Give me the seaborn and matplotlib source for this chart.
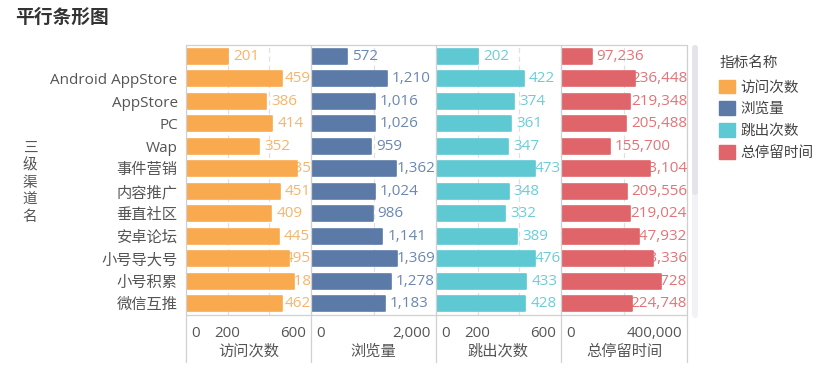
import numpy as np
import pandas as pd
import matplotlib
matplotlib.use("Agg")
import matplotlib.pyplot as plt
import seaborn as sns
from matplotlib.lines import Line2D
from matplotlib.patches import Patch, FancyBboxPatch
from matplotlib.transforms import ScaledTranslation

# data
channels = ["", "Android AppStore", "AppStore", "PC", "Wap", "事件营销", "内容推广",
            "垂直社区", "安卓论坛", "小号导大号", "小号积累", "微信互推"]
visits = [201, 459, 386, 414, 352, 535, 451, 409, 445, 495, 518, 462]
page_views = [572, 1210, 1016, 1026, 959, 1362, 1024, 986, 1141, 1369, 1278, 1183]
bounces = [202, 422, 374, 361, 347, 473, 348, 332, 389, 476, 433, 428]
stay_time = [97236, 236448, 219348, 205488, 155700, 283104, 209556, 219024,
             247932, 293336, 316728, 224748]

metrics = ["访问次数", "浏览量", "跳出次数", "总停留时间"]
bar_colors = ["#F9AA4E", "#5B7AA8", "#5EC8D3", "#E0656A"]
text_colors = ["#F6B56C", "#6B87B1", "#6CCDD7", "#E27479"]
ticks = [[0, 200, 400, 600], [0, 1000, 2000], [0, 200, 400, 600], [0, 200000, 400000]]
tick_labels = [["0", "200", "", "600"], ["0", "", "2,000"], ["0", "200", "", "600"],
               ["0", "", "400,000"]]

df = pd.DataFrame({"渠道": channels, "访问次数": visits, "浏览量": page_views,
                   "跳出次数": bounces, "总停留时间": stay_time})

sns.set_theme(style="white")
plt.rcParams["font.family"] = ["Open Sans", "Noto Sans CJK SC", "DejaVu Sans"]

W, H = 833, 376
fig = plt.figure(figsize=(W / 100, H / 100), dpi=100)

edges = [186, 311, 436, 561, 687]
top, bottom = 45, 315
grid_c = "#E0E0E0"
line_c = "#D0D0D0"

axes = []
texts = []
for k, m in enumerate(metrics):
    x0, x1 = edges[k], edges[k + 1]
    ax = fig.add_axes([x0 / W, 1 - bottom / H, (x1 - x0) / W, (bottom - top) / H])
    ax.set_facecolor("none")
    sns.barplot(data=df, y="渠道", x=m, order=channels, color=bar_colors[k],
                width=0.66, orient="h", ax=ax, saturation=1)
    for p in ax.patches:
        p.set_edgecolor(bar_colors[k])
        p.set_linewidth(1.2)
        p.set_joinstyle("round")
        p.set_zorder(2)
    xmax = ticks[k][-1]
    ax.set_xlim(0, xmax)
    ax.set_ylim(len(channels) - 0.5, -0.5)
    ax.set_xticks(ticks[k])
    ax.set_xticklabels(tick_labels[k])
    ax.grid(axis="x", color=grid_c, linestyle=(0, (4, 3)), linewidth=0.9, zorder=0)
    ax.grid(axis="y", visible=False)
    ax.set_axisbelow(True)
    for s in ax.spines.values():
        s.set_visible(False)
    ax.tick_params(axis="x", length=0, pad=8, labelsize=10.8, labelcolor="#555555")
    labs = ax.get_xticklabels()
    labs[0].set_ha("left")
    labs[0].set_transform(labs[0].get_transform() + ScaledTranslation(5 / 100, 0, fig.dpi_scale_trans))
    labs[-1].set_ha("right")
    labs[-1].set_transform(labs[-1].get_transform() + ScaledTranslation(-5 / 100, 0, fig.dpi_scale_trans))
    ax.set_xlabel(m, fontsize=11, color="#555555")
    ax.xaxis.set_label_coords(0.5, -(352 - bottom) / (bottom - top))
    ax.xaxis.label.set_va("center")
    if k == 0:
        ax.tick_params(axis="y", length=0, pad=6, labelsize=11, labelcolor="#555555")
        ax.set_ylabel("")
    else:
        ax.set_yticklabels([])
        ax.tick_params(axis="y", length=0)
        ax.set_ylabel("")
    off = 5 / (x1 - x0) * xmax
    vals = df[m].tolist()
    for i, v in enumerate(vals):
        t = ax.text(v + off, i, f"{v:,}", ha="left", va="center", fontsize=11,
                    color=text_colors[k], zorder=1)
        texts.append((ax, t, xmax))
    axes.append(ax)

# panel frame lines
for x in edges:
    fig.add_artist(Line2D([x / W, x / W], [1 - top / H, 1 - 362 / H], color=line_c, lw=0.9))
for y in (top, bottom):
    fig.add_artist(Line2D([edges[0] / W, edges[-1] / W], [1 - y / H, 1 - y / H], color=line_c, lw=0.9))

# scrollbar beside the legend
fig.patches.append(FancyBboxPatch((692 / 100, (H - 318) / 100), 6 / 100, 273 / 100,
                                  boxstyle="round,pad=0,rounding_size=0.03",
                                  transform=fig.dpi_scale_trans, color="#F2F2F5", lw=0))
fig.patches.append(FancyBboxPatch((692 / 100, (H - 195) / 100), 6 / 100, 150 / 100,
                                  boxstyle="round,pad=0,rounding_size=0.03",
                                  transform=fig.dpi_scale_trans, color="#E4E4EA", lw=0))

# legend
handles = [Patch(facecolor=c, edgecolor=c) for c in bar_colors]
leg = fig.legend(handles, metrics, title="指标名称", loc="upper left",
                 bbox_to_anchor=(712 / W, 1 - 49 / H), frameon=False, fontsize=10.5,
                 title_fontsize=10.5, handlelength=1.05, handleheight=1.05,
                 labelspacing=0.42, handletextpad=0.4, borderpad=0, alignment="left")
leg._legend_box.sep = 6
for t in leg.get_texts():
    t.set_color("#444444")
leg.get_title().set_color("#444444")

# title and y label
fig.text(15 / W, 1 - 18 / H, "平行条形图", fontsize=13.5, fontweight="bold",
         color="#333333", va="center", ha="left")
fig.text(30 / W, 1 - 183 / H, "\n".join("三级渠道名"), fontsize=10.5, color="#555555",
         va="center", ha="center", linespacing=1.2)

# keep value labels inside each panel
fig.canvas.draw()
renderer = fig.canvas.get_renderer()
for ax, t, xmax in texts:
    right = ax.get_window_extent(renderer).x1
    bb = t.get_window_extent(renderer)
    if bb.x1 > right - 1:
        t.set_x(xmax)
        t.set_ha("right")

fig.savefig("out.png", dpi=100)
